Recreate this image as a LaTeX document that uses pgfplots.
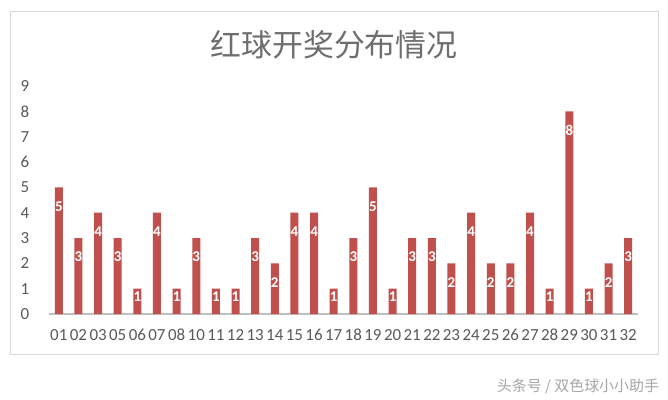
\documentclass[border=0pt]{standalone}
\usepackage{pgfplots}
\pgfplotsset{compat=1.18}
\usepackage{pgfplotstable}
\usepackage{fontspec}
\setmainfont{Carlito}
\newfontfamily\cjk{Noto Sans CJK SC}
\definecolor{barred}{HTML}{C0504D}
\definecolor{txtgray}{HTML}{595959}
\definecolor{titlegray}{HTML}{6E6E6E}
\definecolor{framegray}{HTML}{D9D9D9}
\definecolor{axgray}{HTML}{BFBFBF}
\pgfplotstableread{
x v ly
0 5 4.25
1 3 2.25
2 4 3.25
3 3 2.25
4 1 0.68
5 4 3.25
6 1 0.68
7 3 2.25
8 1 0.68
9 1 0.68
10 3 2.25
11 2 1.25
12 4 3.25
13 4 3.25
14 1 0.68
15 3 2.25
16 5 4.25
17 1 0.68
18 3 2.25
19 3 2.25
20 2 1.25
21 4 3.25
22 2 1.25
23 2 1.25
24 4 3.25
25 1 0.68
26 8 7.25
27 1 0.68
28 2 1.25
29 3 2.25
}\data
\begin{document}
\begin{tikzpicture}
\fill[white] (0,0) rectangle (668bp,400bp);
\useasboundingbox (0,0) rectangle (668bp,400bp);
\draw[framegray, line width=1bp] (10bp,45bp) rectangle (658bp,388bp);
\begin{axis}[
  at={(49bp,86bp)}, anchor=south west,
  scale only axis, width=589bp, height=228bp,
  xmin=-0.5, xmax=29.5, ymin=0, ymax=9,
  axis x line*=bottom, axis y line*=left,
  x axis line style={axgray, line width=2bp, -},
  y axis line style={draw=none},
  major tick length=0pt,
  xtick={0,...,29},
  xticklabels={01,02,03,05,06,07,08,10,11,12,13,14,15,16,17,18,19,20,21,22,23,24,25,26,27,28,29,30,31,32},
  ytick={0,...,9},
  tick label style={font=\fontsize{17}{19}\selectfont, text=txtgray},
  /pgf/number format/assume math mode=true,
  yticklabel style={anchor=center, xshift=-24bp},
  xticklabel style={anchor=center, yshift=-21bp},
  clip=false,
]
\addplot[ybar, bar width=8bp, fill=barred, draw=none] table[x=x, y=v] {\data};
\addplot[only marks, mark=none, nodes near coords, point meta=explicit symbolic,
  every node near coord/.style={anchor=center, text=white, font=\bfseries\fontsize{15}{16}\selectfont, inner sep=0pt}]
  table[x=x, y=ly, meta=v] {\data};
\end{axis}
\node[text=titlegray, font=\cjk\fontsize{31}{34}\selectfont] at (334bp,355bp) {红球开奖分布情况};
\node[text=black!35, font=\cjk\fontsize{15}{18}\selectfont] at (578bp,13bp) {头条号 / 双色球小小助手};
\end{tikzpicture}
\end{document}
